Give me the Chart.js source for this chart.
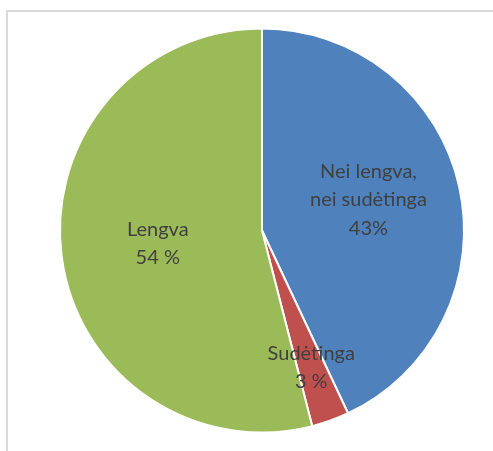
<!DOCTYPE html>
<html>
<head>
<meta charset="utf-8">
<script src="https://cdn.jsdelivr.net/npm/chart.js@4"></script>
<style>
  html, body { margin: 0; padding: 0; background: #fff; overflow: hidden; }
  #frame { position: absolute; left: 6px; top: 10px; width: 600px; height: 600px;
           border-left: 2px solid #d9d9d9; border-top: 2px solid #d9d9d9; }
  #pie { position: absolute; left: 0; top: 0; }
</style>
</head>
<body>
<div id="frame"></div>
<canvas id="pie" width="493" height="451"></canvas>
<script>
// Data
const categories = ['Nei lengva, nei sudėtinga', 'Sudėtinga', 'Lengva']
const values = [43, 3, 54]
const categoryLines = [['Nei lengva,', 'nei sudėtinga'], ['Sudėtinga'], ['Lengva']]
const percentLabels = ['43%', '3 %', '54 %']
const sliceColors = ['#4f81bd', '#c0504d', '#9bbb59']

// draws the text inside each slice, like the office data labels
const sliceLabels = {
    id: 'sliceLabels',
    afterDatasetsDraw(chart, args, opts) {
        const ctx = chart.ctx
        const arcs = chart.getDatasetMeta(0).data
        ctx.save()
        ctx.font = opts.font
        ctx.fillStyle = opts.color
        ctx.textAlign = 'center'
        ctx.textBaseline = 'middle'
        arcs.forEach((arc, i) => {
            const p = arc.getProps(['x', 'y', 'startAngle', 'endAngle', 'outerRadius'], true)
            const mid = (p.startAngle + p.endAngle) / 2
            const r = p.outerRadius * opts.radius[i]
            const cx = p.x + Math.cos(mid) * r
            const cy = p.y + Math.sin(mid) * r + opts.nudgeY[i]
            const lines = categoryLines[i].concat([percentLabels[i]])
            const top = cy - (lines.length - 1) * opts.lineHeight / 2
            lines.forEach((t, j) => ctx.fillText(t, cx, top + j * opts.lineHeight))
        })
        ctx.restore()
    }
}

let pieCanvas = document.querySelector('canvas#pie')
var pieChart = new Chart(pieCanvas, {
    type: 'pie',
    data: {
        labels: categories,
        datasets: [{
            data: values,
            backgroundColor: sliceColors,
            borderColor: '#ffffff',
            borderWidth: 2
        }]
    },
    options: {
        responsive: false,
        animation: false,
        events: [],
        layout: {
            padding: { left: 59, right: 28, top: 27, bottom: 17 }
        },
        plugins: {
            legend: { display: false },
            tooltip: { enabled: false },
            sliceLabels: {
                font: '20px Lato',
                color: '#404040',
                lineHeight: 28.5,
                radius: [0.54, 0.72, 0.52],
                nudgeY: [-7, 0, 0]
            }
        }
    },
    plugins: [sliceLabels]
})
</script>
</body>
</html>
